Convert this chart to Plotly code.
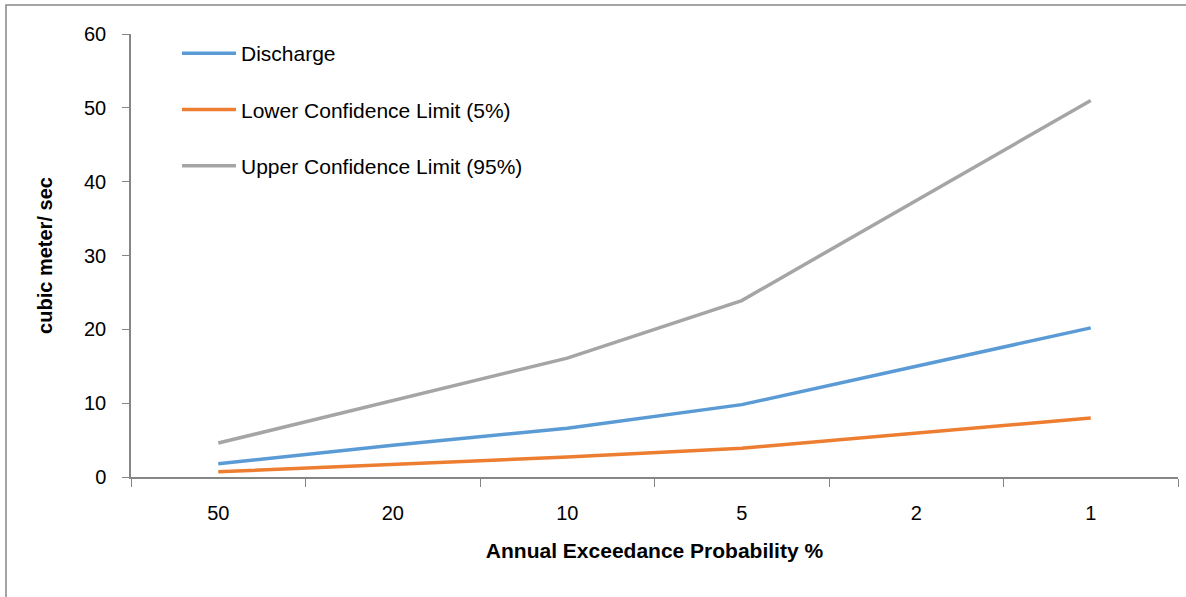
import plotly.graph_objects as go

categories = ["50", "20", "10", "5", "2", "1"]
discharge = [1.8, 4.3, 6.6, 9.8, 15.0, 20.2]
lower_cl = [0.7, 1.7, 2.7, 3.9, 6.0, 8.0]
upper_cl = [4.6, 10.4, 16.1, 23.9, 37.5, 51.0]

series = [
    ("Discharge", discharge, "#5B9BD5"),
    ("Lower Confidence Limit (5%)", lower_cl, "#ED7D31"),
    ("Upper Confidence Limit (95%)", upper_cl, "#A5A5A5"),
]

FONT = "Liberation Sans"
fig = go.Figure()
for name, vals, col in series:
    fig.add_trace(go.Scatter(
        x=categories, y=vals, mode="lines", name=name,
        line=dict(color=col, width=3.5), legendgroup=name,
    ))

W, H = 1186, 597
L, R, T, B = 131, 8, 34, 120
pw, ph = W - L - R, H - T - B

fig.update_layout(
    width=W, height=H,
    margin=dict(l=L, r=R, t=T, b=B),
    paper_bgcolor="white", plot_bgcolor="white",
    font=dict(family=FONT, size=20, color="black"),
    showlegend=True,
    legend=dict(
        x=(177 - L) / pw, y=1 - (33 - T) / ph, xanchor="left", yanchor="top",
        bgcolor="rgba(0,0,0,0)", traceorder="grouped", tracegroupgap=26,
        itemwidth=54,
        font=dict(family=FONT, size=21),
    ),
    xaxis=dict(
        type="category", range=[-0.5, 5.5],
        showline=True, linecolor="#868686", linewidth=1.5,
        ticks="outside", tickson="boundaries", ticklen=8, tickcolor="#868686",
        showgrid=False, zeroline=False,
        ticklabelstandoff=17,
        tickfont=dict(family=FONT, size=20),
        title=dict(text="<b>Annual Exceedance Probability %</b>",
                   font=dict(family=FONT, size=21), standoff=21),
    ),
    yaxis=dict(
        range=[0, 60], tickvals=[0, 10, 20, 30, 40, 50, 60],
        showline=True, linecolor="#868686", linewidth=1.5,
        ticks="outside", ticklen=7, tickcolor="#868686",
        showgrid=False, zeroline=False,
        ticklabelstandoff=12,
        tickfont=dict(family=FONT, size=20),
        title=dict(text="<b>cubic meter/ sec</b>",
                   font=dict(family=FONT, size=20), standoff=26),
    ),
)

# outer chart border
fig.add_shape(
    type="rect", xref="paper", yref="paper",
    x0=(6 - L) / pw, x1=(W + 5 - L) / pw,
    y0=1 - (H + 5 - T) / ph, y1=1 - (5 - T) / ph,
    line=dict(color="#868686", width=1.5), fillcolor="rgba(0,0,0,0)",
    layer="below",
)

fig.write_html(
    "out.html",
    config={"displayModeBar": False},
    post_script="document.body.style.margin='0px';document.body.style.overflow='hidden';",
)
